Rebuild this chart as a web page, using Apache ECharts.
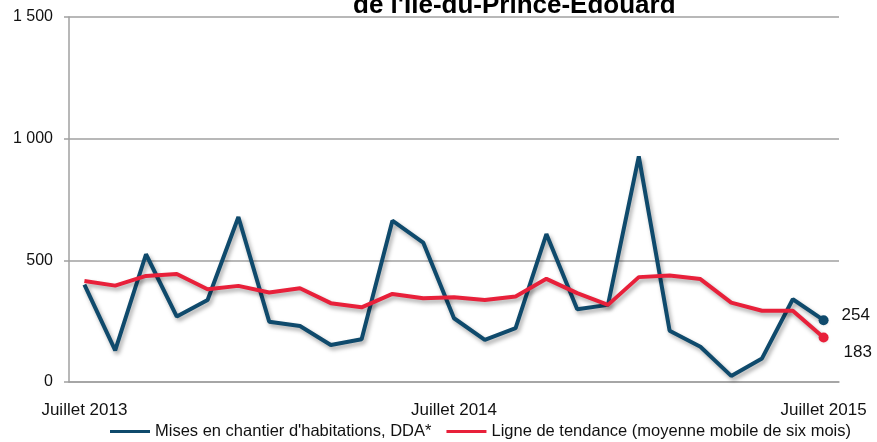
<!DOCTYPE html>
<html>
<head>
<meta charset="utf-8">
<script src="https://cdn.jsdelivr.net/npm/echarts@6/dist/echarts.min.js"></script>
<style>
  html, body { margin: 0; padding: 0; background: #fff; }
  #chart { width: 877px; height: 442px; }
</style>
</head>
<body>
<div id="chart"></div>
<script>
// mois, de juillet 2013 a juillet 2015
const months = [
  'Juillet 2013', 'Août 2013', 'Septembre 2013', 'Octobre 2013', 'Novembre 2013', 'Décembre 2013',
  'Janvier 2014', 'Février 2014', 'Mars 2014', 'Avril 2014', 'Mai 2014', 'Juin 2014',
  'Juillet 2014', 'Août 2014', 'Septembre 2014', 'Octobre 2014', 'Novembre 2014', 'Décembre 2014',
  'Janvier 2015', 'Février 2015', 'Mars 2015', 'Avril 2015', 'Mai 2015', 'Juin 2015',
  'Juillet 2015'
];
// mises en chantier, DDA
const starts = [400, 130, 525, 269, 337, 678, 248, 230, 152, 176, 663, 573,
  262, 173, 221, 608, 299, 317, 927, 211, 145, 25, 97, 340, 254];
// moyenne mobile de six mois
const trend = [415, 396, 436, 444, 381, 395, 368, 385, 324, 307, 362, 344,
  348, 337, 351, 424, 365, 317, 431, 438, 423, 326, 293, 293, 183];
const yTicks = [0, 500, 1000, 1500];

const blue = '#0f4a6c';
const red = '#e8203a';
const font = 'Liberation Sans, Arial, sans-serif';
const last = months.length - 1;

let myCharts = echarts.init(document.getElementById('chart'));

function lineSeries(name, data, color, labelOffset) {
  return {
    name: name,
    type: 'line',
    data: data,
    symbol: (v, p) => p.dataIndex === last ? 'circle' : 'none',
    symbolSize: 10,
    itemStyle: { color: color },
    lineStyle: {
      color: color,
      width: 4,
      shadowColor: 'rgba(0,0,0,0.35)',
      shadowBlur: 4,
      shadowOffsetX: 2,
      shadowOffsetY: 3
    },
    endLabel: {
      show: true,
      formatter: '{c}',
      color: '#111',
      fontSize: 17,
      fontFamily: font,
      offset: labelOffset
    },
    animation: false
  };
}

let option = {
  title: {
    text: "de l'Île-du-Prince-Édouard",
    left: 348,
    top: -12,
    textStyle: { fontSize: 26, fontWeight: 'bold', color: '#000', fontFamily: font }
  },
  grid: { left: 69, right: 38, top: 17, bottom: 60 },
  legend: {
    bottom: 2,
    left: 110,
    width: 767,
    icon: 'rect',
    itemWidth: 40,
    itemHeight: 3,
    itemGap: 15,
    padding: 0,
    textStyle: { fontSize: 16.5, color: '#111', fontFamily: font },
    data: ["Mises en chantier d'habitations, DDA*", 'Ligne de tendance (moyenne mobile de six mois)']
  },
  xAxis: {
    type: 'category',
    data: months,
    axisLine: { lineStyle: { color: '#a0a0a0', width: 1.5 } },
    axisTick: { show: false },
    axisLabel: {
      interval: (i) => i % 12 === 0,
      margin: 20,
      fontSize: 17,
      color: '#111',
      fontFamily: font
    }
  },
  yAxis: {
    type: 'value',
    min: yTicks[0],
    max: yTicks[yTicks.length - 1],
    interval: 500,
    axisLine: { show: true, lineStyle: { color: '#a0a0a0', width: 1.5 } },
    axisTick: { show: true, length: 5, lineStyle: { color: '#a0a0a0', width: 1.5 } },
    splitLine: { lineStyle: { color: '#a0a0a0', width: 1.5 } },
    axisLabel: {
      margin: 16,
      fontSize: 16,
      color: '#111',
      fontFamily: font,
      formatter: (v) => String(v).replace(/\B(?=(\d{3})+(?!\d))/g, ' ')
    }
  },
  series: [
    lineSeries("Mises en chantier d'habitations, DDA*", starts, blue, [10, -5]),
    lineSeries('Ligne de tendance (moyenne mobile de six mois)', trend, red, [12, 15])
  ]
};

myCharts.setOption(option);
</script>
</body>
</html>
